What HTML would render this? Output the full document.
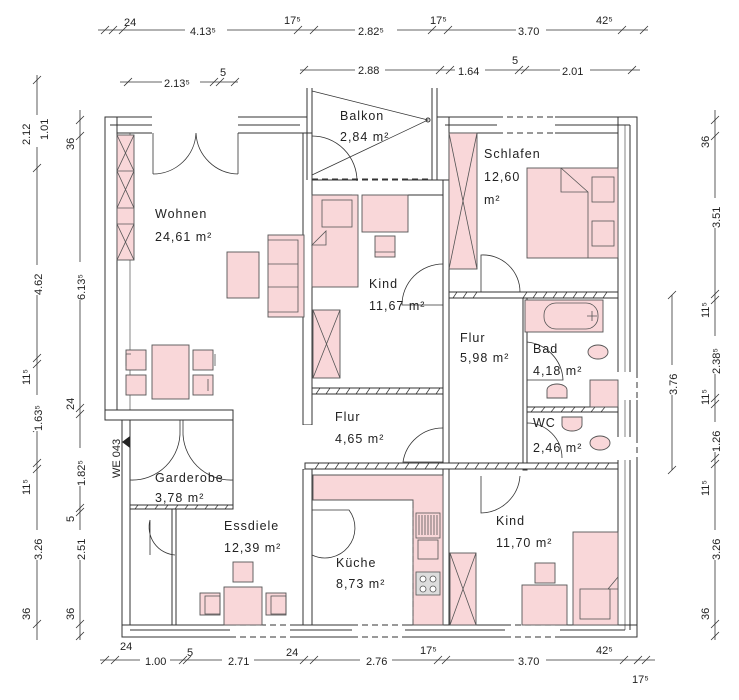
<!DOCTYPE html>
<html><head><meta charset="utf-8"><style>
html,body{margin:0;padding:0;background:#fff;}
svg{display:block;}
text{font-family:"Liberation Sans Narrow","Liberation Sans",sans-serif;fill:#222;}
.r{font-size:12.5px;letter-spacing:1px;}
.d{font-size:11px;}
</style></head><body>
<svg width="739" height="700" viewBox="0 0 739 700" xmlns="http://www.w3.org/2000/svg">
<g fill="none" stroke="#333" stroke-width="1">
<g fill="#fff">
<rect x="105" y="117" width="202" height="16"/>
<rect x="105" y="117" width="12" height="303"/>
<rect x="303" y="133" width="9" height="292"/>
<rect x="105" y="410" width="128" height="10"/>
<rect x="122" y="420" width="8" height="217"/>
<rect x="437" y="117" width="200" height="16"/>
<rect x="437" y="117" width="12" height="64"/>
<rect x="618" y="117" width="19" height="520"/>
<rect x="312" y="180" width="131" height="15"/>
<rect x="443" y="180" width="6" height="290"/>
<rect x="523" y="298" width="4" height="172"/>
<rect x="303" y="469" width="9" height="156"/>
<rect x="443" y="469" width="6" height="156"/>
<rect x="122" y="625" width="515" height="12"/>
<rect x="172" y="508" width="4" height="117"/>
</g>
<line x1="130" y1="133" x2="130" y2="410" stroke-width="0.6"/>
<line x1="630" y1="125" x2="630" y2="630"/>
<line x1="625" y1="125" x2="625" y2="630" stroke-width="0.6"/>
<line x1="130" y1="630" x2="625" y2="630"/>
<line x1="110" y1="125" x2="300" y2="125"/>
<line x1="445" y1="125" x2="630" y2="125"/>
<line x1="233" y1="410" x2="233" y2="508"/>
<g fill="#fff" stroke="none">
<rect x="152" y="116" width="86" height="18"/>
<rect x="497" y="116" width="58" height="18"/>
<rect x="352" y="179" width="56" height="17"/>
<rect x="617" y="372" width="21" height="28"/>
<rect x="617" y="437" width="21" height="23"/>
<rect x="230" y="624" width="60" height="14"/>
<rect x="352" y="624" width="53" height="14"/>
<rect x="505" y="624" width="55" height="14"/>
<rect x="302" y="425" width="11" height="44"/>
</g>
<g stroke-dasharray="6,4">
<line x1="497" y1="117" x2="555" y2="117"/><line x1="497" y1="133" x2="555" y2="133"/>
<line x1="352" y1="180" x2="408" y2="180"/>
<line x1="637" y1="372" x2="637" y2="400"/><line x1="637" y1="437" x2="637" y2="460"/>
<line x1="230" y1="637" x2="290" y2="637"/><line x1="352" y1="637" x2="405" y2="637"/><line x1="505" y1="637" x2="560" y2="637"/>
<line x1="230" y1="625" x2="290" y2="625"/><line x1="352" y1="625" x2="405" y2="625"/><line x1="505" y1="625" x2="560" y2="625"/>
</g>
<g fill="#fff">
<rect x="312" y="388" width="131" height="6"/>
<rect x="449" y="292" width="169" height="6"/>
<rect x="527" y="407" width="91" height="5"/>
<rect x="305" y="463" width="313" height="6"/>
<rect x="130" y="505" width="103" height="4"/>
</g>
<path stroke-width="0.7" d="M316 394l4-6M326 394l4-6M336 394l4-6M346 394l4-6M356 394l4-6M366 394l4-6M376 394l4-6M386 394l4-6M396 394l4-6M406 394l4-6M416 394l4-6M426 394l4-6M436 394l4-6
M453 298l4-6M463 298l4-6M473 298l4-6M523 298l4-6M533 298l4-6M543 298l4-6M553 298l4-6M563 298l4-6M573 298l4-6M583 298l4-6M593 298l4-6M603 298l4-6
M531 412l4-5M541 412l4-5M551 412l4-5M561 412l4-5M571 412l4-5M581 412l4-5M591 412l4-5M601 412l4-5
M315 469l4-6M325 469l4-6M335 469l4-6M345 469l4-6M355 469l4-6M365 469l4-6M375 469l4-6M385 469l4-6M395 469l4-6M405 469l4-6M415 469l4-6M425 469l4-6M435 469l4-6M455 469l4-6M465 469l4-6M475 469l4-6M485 469l4-6M495 469l4-6M505 469l4-6M515 469l4-6M535 469l4-6M545 469l4-6M555 469l4-6M565 469l4-6M575 469l4-6M585 469l4-6M595 469l4-6M605 469l4-6
M135 509l3-4M145 509l3-4M155 509l3-4M165 509l3-4M175 509l3-4M185 509l3-4M195 509l3-4M205 509l3-4M215 509l3-4M225 509l3-4"/>
<path d="M307 88V180M312 88V180M432 88V180M437 88V117"/>
<line x1="312" y1="179" x2="432" y2="179" stroke-dasharray="6,4"/>
<path d="M312 91L428 120L312 175" stroke-width="0.7"/>
<circle cx="428" cy="120" r="2"/>
<path d="M312 136A45 45 0 0 1 357 181" stroke-width="0.8"/>
<g stroke-width="0.8">
<path d="M153 174V133M238 174V133M153 174A43 43 0 0 0 196 133M238 174A43 43 0 0 1 196 133"/>
<path d="M443 305H402A41 41 0 0 1 443 264" />
<path d="M481 292V255A37 37 0 0 1 520 292"/>
<path d="M443 428A40 40 0 0 0 403 462H443"/>
<path d="M527 342A40 40 0 0 1 563 380H527"/>
<path d="M527 423A35 35 0 0 1 562 458"/>
<path d="M481 476V513A40 40 0 0 0 520 476"/>
<path d="M130 480A48 48 0 0 0 180 430M233 480A48 48 0 0 1 183 430M180 430V420M183 430V420"/>
<path d="M150 520V555M150 520A28 28 0 0 0 175 555"/>
<path d="M312 555A30 30 0 0 0 349 510H312"/>
</g>
</g>
<g fill="#f9d7d9" stroke="#555" stroke-width="0.9">
<rect x="117" y="135" width="17" height="125"/>
<rect x="268" y="235" width="36" height="82"/>
<rect x="227" y="252" width="32" height="46"/>
<rect x="152" y="345" width="37" height="54"/>
<rect x="126" y="350" width="20" height="20"/><rect x="126" y="375" width="20" height="20"/>
<rect x="193" y="350" width="20" height="20"/><rect x="193" y="375" width="20" height="20"/>
<rect x="312" y="195" width="46" height="92"/>
<rect x="362" y="195" width="46" height="37"/>
<rect x="375" y="236" width="20" height="21"/>
<rect x="313" y="310" width="27" height="68"/>
<rect x="449" y="133" width="28" height="136"/>
<rect x="527" y="168" width="91" height="90"/>
<rect x="525" y="300" width="78" height="32"/>
<rect x="590" y="380" width="28" height="27"/>
<path d="M313 475H443V625H413V500H313Z"/>
<rect x="450" y="553" width="26" height="72"/>
<rect x="522" y="585" width="45" height="40"/>
<rect x="535" y="563" width="20" height="20"/>
<rect x="573" y="532" width="45" height="93"/>
<rect x="224" y="587" width="38" height="38"/>
<rect x="200" y="593" width="20" height="22"/><rect x="266" y="593" width="20" height="22"/>
<rect x="233" y="562" width="20" height="20"/>
<ellipse cx="598" cy="352" rx="10" ry="7"/>
<ellipse cx="600" cy="443" rx="10" ry="7"/>
<path d="M547 398h20v-8a10 6 0 0 0-20 0z"/>
<path d="M562 417h20v8a10 6 0 0 1-20 0z"/>
</g>
<g fill="none" stroke="#555" stroke-width="0.8">
<path d="M117 135L134 171M134 135L117 171M117 171H134L117 208M134 171L134 208M117 171L134 208M134 171L117 208M117 208H134M117 224H134M117 224L134 260M134 224L117 260"/>
<path d="M268 240H298V312H268M268 264H298M268 287H298"/>
<path d="M126 354H131M126 354V366M215 354V366M208 379V391"/>
<rect x="322" y="200" width="30" height="27"/>
<path d="M312 245L326 231V245Z" fill="#f9d7d9"/>
<path d="M375 252H395"/>
<path d="M313 310L340 378M340 310L313 378"/>
<path d="M449 133L477 269M477 133L449 269"/>
<rect x="592" y="177" width="22" height="25"/><rect x="592" y="221" width="22" height="25"/>
<path d="M561 168L588 192V258M561 168V192H588"/>
<rect x="544" y="303" width="54" height="26" rx="12"/>
<path d="M587 316h10M592 311v10"/>
<path d="M316 500H413V625" stroke-dasharray="6,3"/>
<rect x="416" y="513" width="24" height="25"/>
<path d="M419 515v20M422 515v20M425 515v20M428 515v20M431 515v20M434 515v20M437 515v20"/>
<rect x="418" y="540" width="20" height="19"/>
<rect x="416" y="572" width="24" height="23" fill="#ddd"/>
<circle cx="423" cy="579" r="3" fill="#fff"/><circle cx="433" cy="579" r="3" fill="#fff"/><circle cx="423" cy="589" r="3" fill="#fff"/><circle cx="433" cy="589" r="3" fill="#fff"/>
<path d="M450 553L476 625M476 553L450 625"/>
<rect x="580" y="589" width="30" height="30"/>
<path d="M608 589L618 577M608 589H618"/>
<rect x="205" y="596" width="15" height="18"/><rect x="271" y="596" width="15" height="18"/>
</g>
<path d="M122 442L130 436V448Z" fill="#222"/>
<text class="d" transform="translate(120,478) rotate(-90)">WE 043</text>
<g class="r">
<text x="155" y="218">Wohnen</text><text x="155" y="241">24,61 m²</text>
<text x="340" y="120">Balkon</text><text x="340" y="141">2,84 m²</text>
<text x="369" y="288">Kind</text><text x="369" y="310">11,67 m²</text>
<text x="484" y="158">Schlafen</text><text x="484" y="181">12,60</text><text x="484" y="204">m²</text>
<text x="460" y="342">Flur</text><text x="460" y="362">5,98 m²</text>
<text x="533" y="353">Bad</text><text x="533" y="375">4,18 m²</text>
<text x="533" y="427">WC</text><text x="533" y="452">2,46 m²</text>
<text x="335" y="421">Flur</text><text x="335" y="443">4,65 m²</text>
<text x="155" y="482">Garderobe</text><text x="155" y="502">3,78 m²</text>
<text x="224" y="530">Essdiele</text><text x="224" y="552">12,39 m²</text>
<text x="336" y="567">Küche</text><text x="336" y="588">8,73 m²</text>
<text x="496" y="525">Kind</text><text x="496" y="547">11,70 m²</text>
</g>
<g stroke="#333" stroke-width="0.8" fill="none">
<line x1="98" y1="30" x2="648" y2="30"/>
<path d="M101 34l8-8M109 34l8-8M119 34l8-8M294 34l8-8M310 34l8-8M428 34l8-8M444 34l8-8M618 34l8-8M640 34l8-8"/>
<line x1="300" y1="70" x2="640" y2="70"/>
<path d="M300 74l8-8M436 74l8-8M446 74l8-8M515 74l8-8M521 74l8-8M628 74l8-8"/>
<line x1="120" y1="82" x2="238" y2="82"/>
<path d="M124 86l8-8M210 86l8-8M216 86l8-8M231 86l8-8"/>
<line x1="37" y1="75" x2="37" y2="640"/>
<path d="M33 84l8-8M33 172l8-8M33 362l8-8M33 368l8-8M33 432l8-8M33 467l8-8M33 473l8-8M33 628l8-8"/>
<line x1="80" y1="110" x2="80" y2="640"/>
<path d="M76 124l8-8M76 140l8-8M76 412l8-8M76 418l8-8M76 512l8-8M76 516l8-8M76 628l8-8M76 640l8-8"/>
<line x1="715" y1="110" x2="715" y2="640"/>
<path d="M711 124l8-8M711 140l8-8M711 298l8-8M711 304l8-8M711 402l8-8M711 408l8-8M711 462l8-8M711 468l8-8M711 628l8-8M711 640l8-8"/>
<line x1="672" y1="295" x2="672" y2="470"/>
<path d="M668 299l8-8M668 474l8-8"/>
<line x1="100" y1="660" x2="655" y2="660"/>
<path d="M101 664l8-8M111 664l8-8M179 664l8-8M183 664l8-8M300 664l8-8M310 664l8-8M434 664l8-8M442 664l8-8M620 664l8-8M634 664l8-8M642 664l8-8"/>
</g>
<g class="d" fill="#222">
<rect x="185" y="23" width="42" height="14" fill="#fff"/><rect x="355" y="23" width="42" height="14" fill="#fff"/><rect x="516" y="23" width="30" height="14" fill="#fff"/>
<text x="124" y="26">24</text><text x="190" y="35">4.13⁵</text><text x="284" y="24">17⁵</text><text x="358" y="35">2.82⁵</text><text x="430" y="24">17⁵</text><text x="518" y="35">3.70</text><text x="596" y="24">42⁵</text>
<rect x="355" y="63" width="30" height="14" fill="#fff"/><rect x="455" y="63" width="30" height="14" fill="#fff"/><rect x="560" y="63" width="30" height="14" fill="#fff"/>
<text x="358" y="74">2.88</text><text x="458" y="75">1.64</text><text x="512" y="64">5</text><text x="562" y="75">2.01</text>
<rect x="162" y="75" width="38" height="14" fill="#fff"/>
<text x="164" y="87">2.13⁵</text><text x="220" y="76">5</text>
<rect x="140" y="653" width="30" height="14" fill="#fff"/><rect x="222" y="653" width="32" height="14" fill="#fff"/><rect x="360" y="653" width="32" height="14" fill="#fff"/><rect x="514" y="653" width="32" height="14" fill="#fff"/>
<text x="120" y="650">24</text><text x="145" y="665">1.00</text><text x="187" y="656">5</text><text x="228" y="665">2.71</text><text x="286" y="656">24</text><text x="366" y="665">2.76</text><text x="420" y="654">17⁵</text><text x="518" y="665">3.70</text><text x="596" y="654">42⁵</text><text x="632" y="683">17⁵</text>
</g>
<g class="d" fill="#222">
<rect x="30" y="115" width="14" height="32" fill="#fff"/><rect x="30" y="265" width="14" height="30" fill="#fff"/><rect x="30" y="395" width="14" height="36" fill="#fff"/><rect x="30" y="530" width="14" height="30" fill="#fff"/>
<text transform="translate(30,145) rotate(-90)">2.12</text>
<text transform="translate(48,140) rotate(-90)">1.01</text>
<text transform="translate(42,295) rotate(-90)">4.62</text>
<text transform="translate(30,385) rotate(-90)">11⁵</text>
<text transform="translate(42,431) rotate(-90)">1.63⁵</text>
<text transform="translate(30,495) rotate(-90)">11⁵</text>
<text transform="translate(42,560) rotate(-90)">3.26</text>
<text transform="translate(30,620) rotate(-90)">36</text>
<rect x="73" y="262" width="14" height="38" fill="#fff"/><rect x="73" y="448" width="14" height="38" fill="#fff"/><rect x="73" y="530" width="14" height="30" fill="#fff"/>
<text transform="translate(74,150) rotate(-90)">36</text>
<text transform="translate(85,300) rotate(-90)">6.13⁵</text>
<text transform="translate(74,410) rotate(-90)">24</text>
<text transform="translate(85,486) rotate(-90)">1.82⁵</text>
<text transform="translate(74,522) rotate(-90)">5</text>
<text transform="translate(85,560) rotate(-90)">2.51</text>
<text transform="translate(74,620) rotate(-90)">36</text>
<rect x="708" y="198" width="14" height="30" fill="#fff"/><rect x="708" y="336" width="14" height="38" fill="#fff"/><rect x="708" y="422" width="14" height="30" fill="#fff"/><rect x="708" y="530" width="14" height="30" fill="#fff"/><rect x="665" y="365" width="14" height="30" fill="#fff"/>
<text transform="translate(709,148) rotate(-90)">36</text>
<text transform="translate(720,228) rotate(-90)">3.51</text>
<text transform="translate(709,318) rotate(-90)">11⁵</text>
<text transform="translate(720,374) rotate(-90)">2.38⁵</text>
<text transform="translate(709,405) rotate(-90)">11⁵</text>
<text transform="translate(720,452) rotate(-90)">1.26</text>
<text transform="translate(709,496) rotate(-90)">11⁵</text>
<text transform="translate(720,560) rotate(-90)">3.26</text>
<text transform="translate(709,620) rotate(-90)">36</text>
<text transform="translate(677,395) rotate(-90)">3.76</text>
</g>
</svg>
</body></html>
